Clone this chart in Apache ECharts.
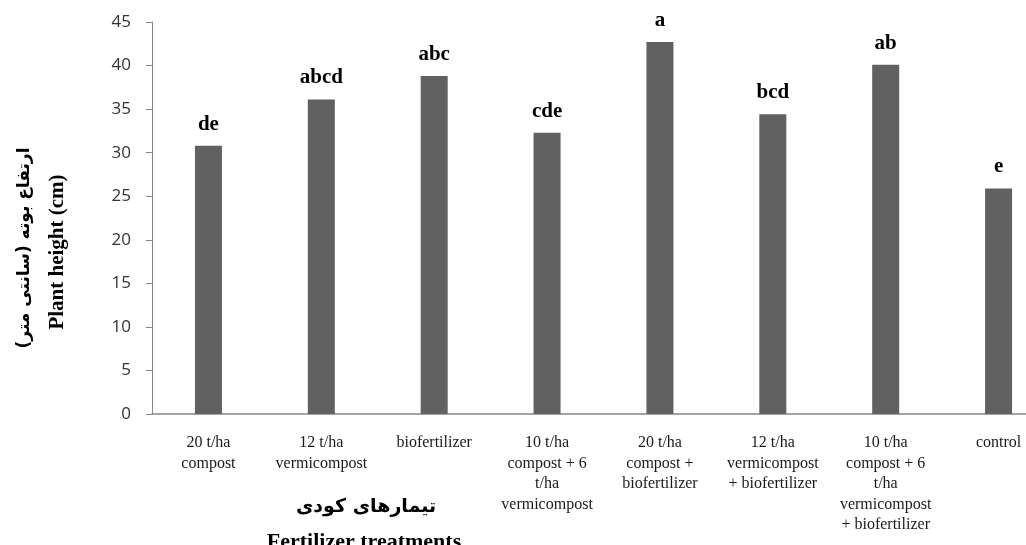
<!DOCTYPE html>
<html>
<head>
<meta charset="utf-8">
<title>Plant height by fertilizer treatment</title>
<script src="https://cdn.jsdelivr.net/npm/echarts@6/dist/echarts.min.js"></script>
<style>
  html, body { margin: 0; padding: 0; background: #ffffff; overflow: hidden; }
  /* plot area runs past the right edge of the page */
  #chart { width: 1055px; height: 545px; }
</style>
</head>
<body>
<div id="chart"></div>
<script>
// Treatments (line breaks follow the wrapped axis labels)
const categories = [
  '20 t/ha\ncompost',
  '12 t/ha\nvermicompost',
  'biofertilizer',
  '10 t/ha\ncompost + 6\nt/ha\nvermicompost',
  '20 t/ha\ncompost +\nbiofertilizer',
  '12 t/ha\nvermicompost\n+ biofertilizer',
  '10 t/ha\ncompost + 6\nt/ha\nvermicompost\n+ biofertilizer',
  'control'
];

// Mean plant height (cm)
const heights = [30.8, 36.1, 38.8, 32.3, 42.7, 34.4, 40.1, 25.9];

// Mean-separation letters
const groups = ['de', 'abcd', 'abc', 'cde', 'a', 'bcd', 'ab', 'e'];

// Value axis ticks
const yTicks = { min: 0, max: 45, step: 5 };

const yTitleFa = 'ارتفاع بوته (سانتی متر)\u200F';
const yTitleEn = 'Plant height (cm)';
const xTitleFa = 'تیمارهای کودی';
const xTitleEn = 'Fertilizer treatments';

const chart = echarts.init(document.getElementById('chart'), null, { renderer: 'canvas' });

const axisGray = '#868686';
const serif = '"Liberation Serif", "Times New Roman", serif';

chart.setOption({
  animation: false,
  backgroundColor: '#ffffff',
  grid: { left: 152, right: 0, top: 22, bottom: 131, containLabel: false },
  xAxis: {
    type: 'category',
    data: categories,
    axisLine: { show: true, lineStyle: { color: axisGray, width: 1.5 } },
    axisTick: { show: false },
    axisLabel: {
      interval: 0,
      margin: 19,
      color: '#1a1a1a',
      fontFamily: serif,
      fontSize: 16,
      lineHeight: 20.5,
      align: 'center'
    },
    splitLine: { show: false }
  },
  yAxis: {
    type: 'value',
    min: yTicks.min,
    max: yTicks.max,
    interval: yTicks.step,
    axisLine: { show: true, lineStyle: { color: axisGray, width: 1 } },
    axisTick: { show: true, inside: false, length: 6, lineStyle: { color: axisGray } },
    axisLabel: {
      margin: 21,
      color: '#333333',
      fontFamily: '"Open Sans", "Liberation Sans", sans-serif',
      fontSize: 17
    },
    splitLine: { show: false }
  },
  series: [{
    type: 'bar',
    data: heights,
    barWidth: 27,
    itemStyle: { color: '#616161' },
    label: {
      show: true,
      position: 'top',
      distance: 11,
      formatter: p => groups[p.dataIndex],
      color: '#000000',
      fontFamily: serif,
      fontWeight: 'bold',
      fontSize: 21
    }
  }],
  graphic: [
    {
      type: 'text',
      x: 25, y: 248,
      rotation: Math.PI / 2,
      style: {
        text: yTitleFa,
        fill: '#000',
        font: 'bold 17px "DejaVu Sans", sans-serif',
        textAlign: 'center',
        textVerticalAlign: 'middle'
      }
    },
    {
      type: 'text',
      x: 58, y: 252,
      rotation: Math.PI / 2,
      style: {
        text: yTitleEn,
        fill: '#000',
        font: 'bold 21px ' + serif,
        textAlign: 'center',
        textVerticalAlign: 'middle'
      }
    },
    {
      type: 'text',
      x: 366, y: 507,
      style: {
        text: xTitleFa,
        fill: '#000',
        font: 'bold 19px "DejaVu Sans", sans-serif',
        textAlign: 'center',
        textVerticalAlign: 'middle'
      }
    },
    {
      type: 'text',
      x: 364, y: 542,
      style: {
        text: xTitleEn,
        fill: '#000',
        font: 'bold 22px ' + serif,
        textAlign: 'center',
        textVerticalAlign: 'middle'
      }
    }
  ]
});
</script>
</body>
</html>
